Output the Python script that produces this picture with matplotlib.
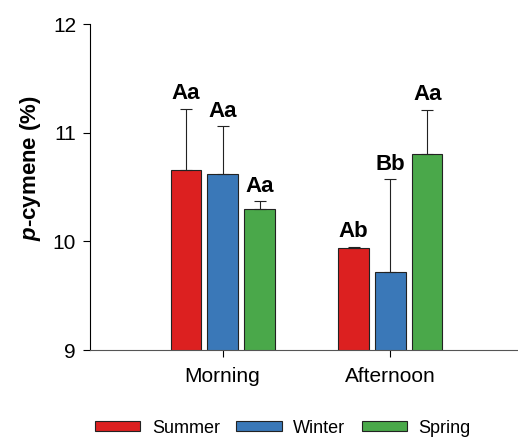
import matplotlib
matplotlib.use("Agg")
import matplotlib.pyplot as plt
from matplotlib.patches import Patch
import numpy as np

plt.rcParams['font.family'] = ['Liberation Sans', 'DejaVu Sans']
plt.rcParams['mathtext.fontset'] = 'custom'
plt.rcParams['mathtext.it'] = 'Liberation Sans:italic:bold'
plt.rcParams['mathtext.rm'] = 'Liberation Sans:bold'

times = ["Morning", "Afternoon"]
seasons = ["Summer", "Winter", "Spring"]
colors = ["#dc2020", "#3a78b8", "#4aa84a"]

means = {
    "Summer": [10.66, 9.94],
    "Winter": [10.62, 9.72],
    "Spring": [10.30, 10.80],
}
errors = {
    "Summer": [0.56, 0.01],
    "Winter": [0.44, 0.85],
    "Spring": [0.07, 0.41],
}
letters = {
    "Summer": ["Aa", "Ab"],
    "Winter": ["Aa", "Bb"],
    "Spring": ["Aa", "Aa"],
}

fig = plt.figure(figsize=(5.18, 4.37), dpi=100)
ax = fig.add_axes([90 / 518, 87 / 437, 428 / 518, 326 / 437])

x = np.arange(len(times))
width = 0.18
step = 0.22

for i, s in enumerate(seasons):
    pos = x + (i - 1) * step
    ax.bar(pos, means[s], width, bottom=0, color=colors[i],
           edgecolor="#222222", linewidth=0.8, zorder=2)
    ax.errorbar(pos, means[s], yerr=[np.zeros(len(times)), errors[s]],
                fmt="none", ecolor="#222222", elinewidth=0.8,
                capsize=4, capthick=0.8, zorder=3)
    for p, m, e, lab in zip(pos, means[s], errors[s], letters[s]):
        ax.text(p, m + e + 0.04, lab, ha="center", va="bottom",
                fontsize=16, fontweight="bold")

ax.set_ylim(9, 12)
ax.set_xlim(-0.79, 1.76)
ax.set_yticks([9, 10, 11, 12])
ax.set_xticks(x)
ax.set_xticklabels(times, fontsize=15)
ax.tick_params(axis="y", labelsize=15, direction="out", length=5, width=0.8, pad=5)
ax.tick_params(axis="x", direction="out", length=5, width=0.8, pad=7)

for side in ["top", "right"]:
    ax.spines[side].set_visible(False)
ax.spines["left"].set_linewidth(0.8)
ax.spines["bottom"].set_linewidth(0.8)
ax.spines["bottom"].set_color("#555555")

fig.text(31 / 518, 1 - 168 / 437, r"$p$-cymene (%)", rotation=90,
         ha="center", va="center", fontsize=16, fontweight="bold")

handles = [Patch(facecolor=c, edgecolor="#222222", linewidth=0.8) for c in colors]
fig.legend(handles, seasons, loc="center", bbox_to_anchor=(283 / 518, 0.02),
           ncol=3, frameon=False, fontsize=13, handlelength=2.5, handleheight=0.45,
           columnspacing=0.9, handletextpad=0.65, borderpad=0.1)

fig.savefig("out.png", dpi=100)
